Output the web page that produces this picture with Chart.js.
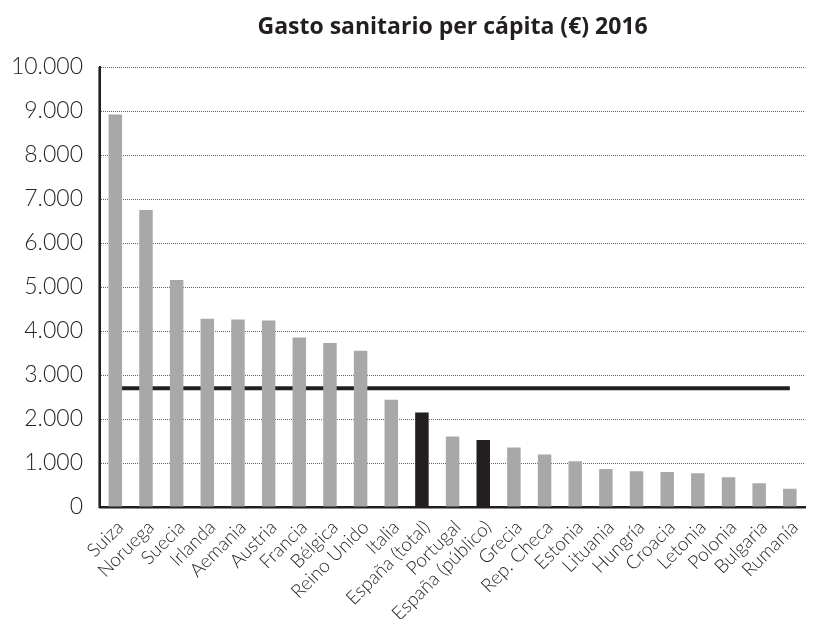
<!DOCTYPE html>
<html>
<head>
<meta charset="utf-8">
<script src="https://cdn.jsdelivr.net/npm/chart.js@4"></script>
<style>
  html, body { margin: 0; padding: 0; background: #fff; }
  #wrap { width: 815px; height: 619px; }
</style>
</head>
<body>
<div id="wrap"><canvas id="c" width="815" height="619"></canvas></div>
<script>
const categories = ['Suiza', 'Noruega', 'Suecia', 'Irlanda', 'Aemania', 'Austria', 'Francia', 'Bélgica', 'Reino Unido', 'Italia', 'España (total)', 'Portugal', 'España (público)', 'Grecia', 'Rep. Checa', 'Estonia', 'Lituania', 'Hungría', 'Croacia', 'Letonia', 'Polonia', 'Bulgaria', 'Rumanía'];
const gasto = [8920, 6750, 5160, 4280, 4260, 4240, 3850, 3730, 3550, 2440, 2150, 1600, 1520, 1350, 1195, 1040, 865, 810, 795, 765, 675, 540, 415];
const mediaUE = 2700;
const highlighted = ['España (total)', 'España (público)'];
const yTicks = [0, 1000, 2000, 3000, 4000, 5000, 6000, 7000, 8000, 9000, 10000];
const titleText = 'Gasto sanitario per cápita (€) 2016';

const GRAY = '#a7a8aa';
const DARK = '#231f20';

const fmt = v => String(v).replace(/\B(?=(\d{3})+(?!\d))/g, '.');

const centerTitle = {
  id: 'centerTitle',
  afterLayout(chart) {
    const tb = chart.titleBlock;
    if (tb) {
      tb.left = chart.chartArea.left;
      tb.right = chart.chartArea.right;
      tb.width = tb.right - tb.left;
    }
  }
};

// redraw the vertical axis line solidly on top, at the y scale's own edge
const axisLines = {
  id: 'axisLines',
  afterDatasetsDraw(chart) {
    const y = chart.scales.y;
    const ctx = chart.ctx;
    ctx.save();
    ctx.setLineDash([]);
    ctx.strokeStyle = DARK;
    ctx.lineWidth = 2.6;
    ctx.beginPath();
    ctx.moveTo(y.right - 0.3, y.top);
    ctx.lineTo(y.right - 0.3, y.bottom + 1);
    ctx.stroke();
    ctx.restore();
  }
};

new Chart(document.getElementById('c'), {
  data: {
    labels: categories,
    datasets: [
      {
        type: 'bar',
        data: gasto,
        backgroundColor: categories.map(c => highlighted.includes(c) ? DARK : GRAY),
        borderWidth: 0,
        barPercentage: 0.44,
        categoryPercentage: 1,
        order: 1
      },
      {
        type: 'line',
        data: categories.map(() => mediaUE),
        borderColor: DARK,
        borderWidth: 4,
        pointRadius: 0,
        fill: false,
        order: 2
      }
    ]
  },
  options: {
    responsive: false,
    animation: false,
    layout: { padding: { left: 0, right: 2, top: 0, bottom: 0 } },
    plugins: {
      legend: { display: false },
      tooltip: { enabled: false },
      title: {
        display: true,
        text: titleText,
        color: '#231f20',
        font: { family: 'Open Sans', size: 23, weight: 'bold', lineHeight: 1.2 },
        padding: { top: 14, bottom: 25.4 }
      }
    },
    scales: {
      x: {
        grid: { display: false, drawTicks: false },
        border: { display: true, color: DARK, width: 2.4 },
        ticks: {
          autoSkip: false,
          maxRotation: 45,
          minRotation: 45,
          padding: 9,
          labelOffset: 5,
          color: '#262626',
          font: { family: 'Lato', size: 19, weight: '300' }
        },
        afterFit(s) { s.height = 112; }
      },
      y: {
        min: 0,
        max: 10000,
        afterBuildTicks(s) { s.ticks = yTicks.map(v => ({ value: v })); },
        grid: {
          drawTicks: false,
          color: ctx => ctx.tick && ctx.tick.value === 0 ? 'rgba(0,0,0,0)' : '#666',
          lineWidth: 1
        },
        border: {
          display: true,
          color: DARK,
          width: 2,
          dash: ctx => (ctx.type === 'tick' ? [1, 1] : [])
        },
        ticks: {
          padding: 17,
          color: '#262626',
          font: { family: 'Lato', size: 23, weight: '300' },
          callback: v => fmt(v)
        },
        afterFit(s) { s.width = 100; }
      }
    }
  },
  plugins: [centerTitle, axisLines]
});
</script>
</body>
</html>
